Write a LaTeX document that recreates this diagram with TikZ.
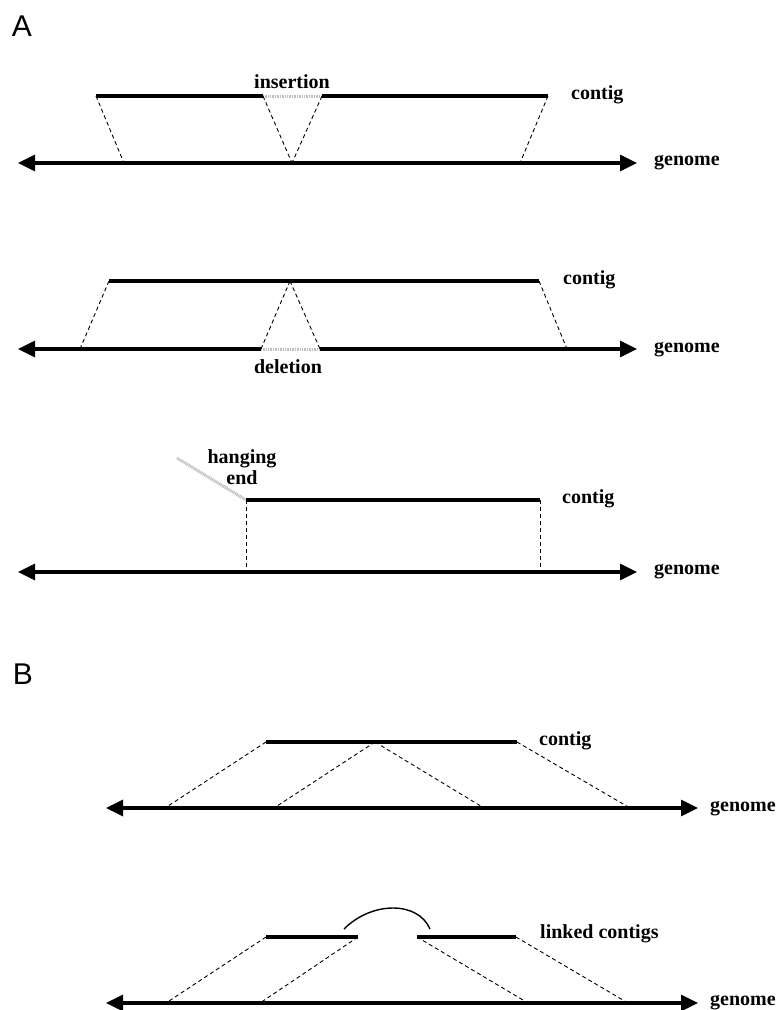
\documentclass[tikz,border=0pt]{standalone}
\usepackage{fontspec}
\setmainfont{Liberation Serif}
\newfontfamily\panelfont{Liberation Sans}
\usetikzlibrary{arrows.meta}

\begin{document}
\begin{tikzpicture}
	[x=1pt,y=-1pt,
	 contigline/.style={line width=3.6pt},
	 genomeline/.style={line width=3.3pt},
	 genomeboth/.style={{Triangle[length=17pt,width=16pt]}-{Triangle[length=17pt,width=16pt]},genomeline},
	 genomeleft/.style={{Triangle[length=17pt,width=16pt]}-,genomeline},
	 genomeright/.style={-{Triangle[length=17pt,width=16pt]},genomeline},
	 mapline/.style={dash pattern=on 4pt off 3pt,line width=0.9pt},
	 gapline/.style={line width=3pt,gray!50,dash pattern=on 1pt off 0.7pt},
	 linkline/.style={line width=1.4pt},
	 word/.style={font=\fontsize{20}{21}\selectfont\bfseries,inner sep=0pt},
	 panel/.style={font=\panelfont\fontsize{30}{32}\selectfont,inner sep=0pt}];
\useasboundingbox (0,0) rectangle (778,1010);

\node[panel] (pA) at (22,26) {A};
\node[panel] (pB) at (23,674) {B};

\coordinate (c1a) at (96,96);
\coordinate (c1b) at (263,96);
\coordinate (c1c) at (322,96);
\coordinate (c1d) at (548,96);
\coordinate (g1a) at (18,163);
\coordinate (g1b) at (124,163);
\coordinate (g1c) at (292,163);
\coordinate (g1d) at (520,163);
\coordinate (g1e) at (637,163);
\draw[gapline] (c1b) -- (c1c);
\draw[contigline] (c1a) -- (c1b);
\draw[contigline] (c1c) -- (c1d);
\draw[genomeboth] (g1a) -- (g1e);
\draw[mapline] (c1a) -- (g1b);
\draw[mapline] (c1b) -- (g1c);
\draw[mapline] (c1c) -- (g1c);
\draw[mapline] (c1d) -- (g1d);
\node[word,anchor=base] (ins) at (292,88) {insertion};
\node[word,anchor=mid west] (contig1) at (571,97) {contig};
\node[word,anchor=mid west] (genome1) at (654,163) {genome};

\coordinate (c2a) at (109,281);
\coordinate (c2b) at (290,281);
\coordinate (c2c) at (539,281);
\coordinate (g2a) at (18,349);
\coordinate (g2b) at (80,349);
\coordinate (g2c) at (261,349);
\coordinate (g2d) at (320,349);
\coordinate (g2e) at (567,349);
\coordinate (g2f) at (637,349);
\draw[contigline] (c2a) -- (c2c);
\draw[genomeleft] (g2a) -- (g2c);
\draw[gapline] (g2c) -- (g2d);
\draw[genomeright] (g2d) -- (g2f);
\draw[mapline] (c2a) -- (g2b);
\draw[mapline] (c2b) -- (g2c);
\draw[mapline] (c2b) -- (g2d);
\draw[mapline] (c2c) -- (g2e);
\node[word,anchor=base] (del) at (288,373) {deletion};
\node[word,anchor=mid west] (contig2) at (563,282) {contig};
\node[word,anchor=mid west] (genome2) at (654,350) {genome};

\coordinate (h3) at (177,458);
\coordinate (c3a) at (246,500);
\coordinate (c3b) at (540,500);
\coordinate (g3a) at (18,572);
\coordinate (g3b) at (246,572);
\coordinate (g3c) at (540,572);
\coordinate (g3d) at (637,572);
\draw[gapline] (h3) -- (c3a);
\draw[contigline] (c3a) -- (c3b);
\draw[genomeboth] (g3a) -- (g3d);
\draw[mapline] (c3a) -- (g3b);
\draw[mapline] (c3b) -- (g3c);
\node[word,anchor=south,align=center] (hang) at (242,485) {hanging\\end};
\node[word,anchor=mid west] (contig3) at (562,501) {contig};
\node[word,anchor=mid west] (genome3) at (654,572) {genome};

\coordinate (c4a) at (266,742);
\coordinate (c4b) at (375,742);
\coordinate (c4c) at (517,742);
\coordinate (g4a) at (106,808);
\coordinate (g4b) at (165,808);
\coordinate (g4c) at (274,808);
\coordinate (g4d) at (484,808);
\coordinate (g4e) at (630,808);
\coordinate (g4f) at (698,808);
\draw[contigline] (c4a) -- (c4c);
\draw[genomeboth] (g4a) -- (g4f);
\draw[mapline] (c4a) -- (g4b);
\draw[mapline] (c4b) -- (g4c);
\draw[mapline] (c4b) -- (g4d);
\draw[mapline] (c4c) -- (g4e);
\node[word,anchor=mid west] (contig4) at (539,743) {contig};
\node[word,anchor=mid west] (genome4) at (710,809) {genome};

\coordinate (c5a) at (266,937);
\coordinate (c5b) at (358,937);
\coordinate (c5c) at (417,937);
\coordinate (c5d) at (516,937);
\coordinate (k5a) at (344,929);
\coordinate (k5b) at (430,929);
\coordinate (g5a) at (106,1003);
\coordinate (g5b) at (166,1003);
\coordinate (g5c) at (260,1003);
\coordinate (g5d) at (528,1003);
\coordinate (g5e) at (628,1003);
\coordinate (g5f) at (698,1003);
\draw[contigline] (c5a) -- (c5b);
\draw[contigline] (c5c) -- (c5d);
\draw[linkline] (k5a) .. controls (372,901) and (418,901) .. (k5b);
\draw[genomeboth] (g5a) -- (g5f);
\draw[mapline] (c5a) -- (g5b);
\draw[mapline] (c5b) -- (g5c);
\draw[mapline] (c5c) -- (g5d);
\draw[mapline] (c5d) -- (g5e);
\node[word,anchor=mid west] (linked) at (540,936) {linked contigs};
\node[word,anchor=mid west] (genome5) at (710,1003) {genome};
\end{tikzpicture}
\end{document}
